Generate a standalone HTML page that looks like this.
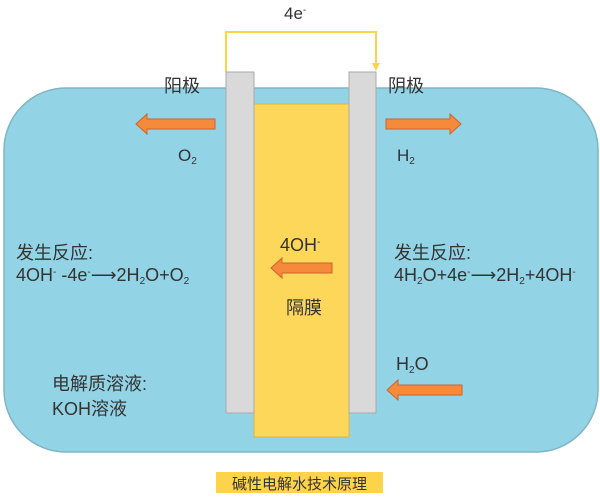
<!DOCTYPE html>
<html><head><meta charset="utf-8"><style>
body{margin:0;width:600px;height:504px;background:#fff;position:relative;overflow:hidden;font-family:"Liberation Sans","Noto Sans CJK SC",sans-serif;color:#333}
.t{position:absolute;white-space:nowrap;font-size:17px}
.r{font-size:18px}
sub{font-size:10px;vertical-align:-3px}
sup{font-size:10px;vertical-align:6px}
</style></head><body>
<svg width="600" height="504" style="position:absolute;left:0;top:0">
<rect x="4" y="88" width="594" height="364" rx="62" fill="#93d3e6" stroke="#7fb5c6" stroke-width="1.5"/>
<polyline points="226,72 226,32 376,32 376,64" fill="none" stroke="#fdd34a" stroke-width="2"/>
<polygon points="372,63 380,63 376,71" fill="#fdd34a"/>
<rect x="254" y="104" width="95" height="333" fill="#fdd75a" stroke="#d9b74a"/>
<rect x="226" y="72" width="28" height="341" fill="#d9d9d9" stroke="#aaa"/>
<rect x="349" y="72" width="27" height="341" fill="#d9d9d9" stroke="#aaa"/>
<g fill="#f58a3a" stroke="#d0622a" stroke-width="1">
<polygon points="215,119 147,119 147,114 136,124 147,134 147,129 215,129"/>
<polygon points="386,119 450,119 450,114 461,124 450,134 450,129 386,129"/>
<polygon points="332,263 282,263 282,258 271,268 282,278 282,273 332,273"/>
<polygon points="462,385 398,385 398,380 387,390 398,400 398,395 462,395"/>
</g>
<rect x="216" y="472" width="167" height="21" fill="#fdd34a"/>
</svg>
<div class="t" style="left:284px;top:4px">4e<sup>-</sup></div>
<div class="t" style="left:164px;top:72px;font-size:18px">阳极</div>
<div class="t" style="left:388px;top:72px;font-size:18px">阴极</div>
<div class="t" style="left:178px;top:146px">O<sub>2</sub></div>
<div class="t" style="left:397px;top:146px">H<sub>2</sub></div>
<div class="t r" style="left:16px;top:239px">发生反应:</div>
<div class="t r" style="left:16px;top:265px">4OH<sup>-</sup> -4e<sup>-</sup>⟶2H<sub>2</sub>O+O<sub>2</sub></div>
<div class="t r" style="left:394px;top:239px">发生反应:</div>
<div class="t r" style="left:394px;top:265px">4H<sub>2</sub>O+4e<sup>-</sup>⟶2H<sub>2</sub>+4OH<sup>-</sup></div>
<div class="t r" style="left:280px;top:235px">4OH<sup>-</sup></div>
<div class="t r" style="left:286px;top:294px">隔膜</div>
<div class="t r" style="left:396px;top:354px">H<sub>2</sub>O</div>
<div class="t r" style="left:52px;top:370px">电解质溶液:</div>
<div class="t r" style="left:52px;top:395px">KOH溶液</div>
<div class="t" style="left:216px;top:473px;width:167px;text-align:center;font-size:15px">碱性电解水技术原理</div>
</body></html>
